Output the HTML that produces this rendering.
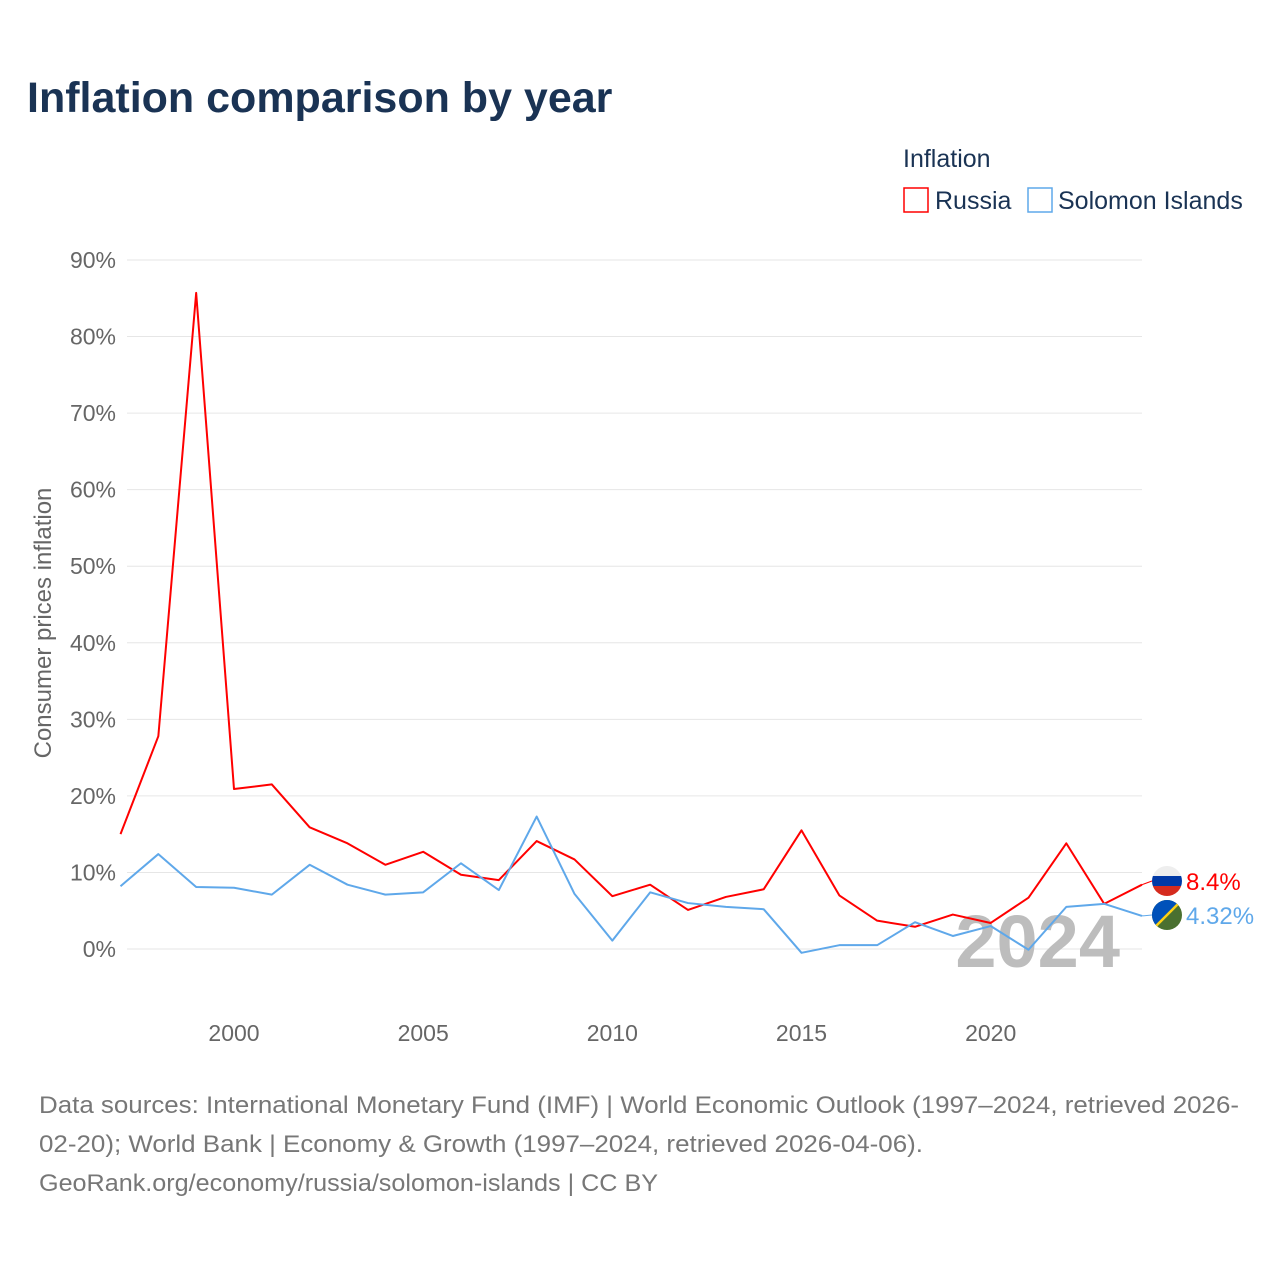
<!DOCTYPE html>
<html><head><meta charset="utf-8"><style>
body{margin:0;background:#fff;font-family:"Liberation Sans",sans-serif;}
</style></head><body>
<svg id="chart" width="1280" height="1280" xmlns="http://www.w3.org/2000/svg">
<defs>
<clipPath id="c1"><circle cx="1167" cy="881" r="15"/></clipPath>
<clipPath id="c2"><circle cx="1167" cy="915" r="15"/></clipPath>
</defs>
<text x="27" y="112" font-size="43" font-weight="bold" fill="#1a3354">Inflation comparison by year</text>
<text x="903" y="167" font-size="25" fill="#1a3354">Inflation</text>
<g><rect x="904" y="188" width="24" height="24" fill="none" stroke="#ff0000" stroke-width="1.5"/><text x="935" y="209" font-size="25" fill="#1a3354">Russia</text></g>
<g><rect x="1028" y="188" width="24" height="24" fill="none" stroke="#5fa8ea" stroke-width="1.5"/><text x="1058" y="209" font-size="25" fill="#1a3354">Solomon Islands</text></g>
<text transform="translate(51,623) rotate(-90)" text-anchor="middle" font-size="24" fill="#666">Consumer prices inflation</text>
<g id="grid"></g><g id="yt"></g><g id="xt"></g>
<text x="1120" y="967" text-anchor="end" font-size="74" font-weight="bold" fill="#bdbdbd">2024</text>
<g id="lines"></g><g id="ends"></g>
<g font-size="24" fill="#777">
<text x="39" y="1113" textLength="1200" lengthAdjust="spacingAndGlyphs">Data sources: International Monetary Fund (IMF) | World Economic Outlook (1997–2024, retrieved 2026-</text>
<text x="39" y="1152" textLength="884" lengthAdjust="spacingAndGlyphs">02-20); World Bank | Economy &amp; Growth (1997–2024, retrieved 2026-04-06).</text>
<text x="39" y="1191" textLength="619" lengthAdjust="spacingAndGlyphs">GeoRank.org/economy/russia/solomon-islands | CC BY</text>
</g>
</svg>
<script>
const years=[1997,1998,1999,2000,2001,2002,2003,2004,2005,2006,2007,2008,2009,2010,2011,2012,2013,2014,2015,2016,2017,2018,2019,2020,2021,2022,2023,2024];
const russia=[15.0,27.8,85.7,20.9,21.5,15.9,13.8,11.0,12.7,9.7,9.0,14.1,11.7,6.9,8.4,5.1,6.8,7.8,15.5,7.0,3.7,2.9,4.5,3.4,6.7,13.8,5.9,8.4];
const solomon=[8.2,12.4,8.1,8.0,7.1,11.0,8.4,7.1,7.4,11.2,7.7,17.3,7.2,1.1,7.4,6.0,5.5,5.2,-0.5,0.5,0.5,3.5,1.7,3.0,-0.1,5.5,5.9,4.32];
const yTicks=[0,10,20,30,40,50,60,70,80,90];
const xTicks=[2000,2005,2010,2015,2020];
const NS="http://www.w3.org/2000/svg";
const X=y=>120.5+(y-1997)*(1142-120.5)/27;
const Y=v=>949-v*(949-260)/90;
function el(t,a,p){const e=document.createElementNS(NS,t);for(const k in a)e.setAttribute(k,a[k]);p.appendChild(e);return e;}
const g=document.getElementById('grid'),yt=document.getElementById('yt'),xt=document.getElementById('xt');
yTicks.forEach(v=>{
 const l=el('line',{x1:127,x2:1142,y1:Y(v),y2:Y(v),stroke:'#e6e6e6','stroke-width':1},g);
 
 
 const t=el('text',{x:116,y:Y(v)+8,'text-anchor':'end','font-size':23,fill:'#666'},yt);
 t.textContent=v+'%';
 
 
});
xTicks.forEach(v=>{
 const t=el('text',{x:X(v),y:1041,'text-anchor':'middle','font-size':23,fill:'#666'},xt);
 t.textContent=v;
 
 
});
const L=document.getElementById('lines'),E=document.getElementById('ends');
[[russia,'#ff0000','russia','8.4%'],[solomon,'#5fa8ea','solomon-islands','4.32%']].forEach(([d,c,n,lab],i)=>{
 const p=el('polyline',{points:d.map((v,j)=>X(years[j])+','+Y(v)).join(' '),fill:'none',stroke:c,'stroke-width':2,'stroke-linejoin':'round'},L);
 
 
 const ly=i===0?881:915;
 const fy=Y(d[d.length-1]);
 el('line',{x1:1142,y1:fy,x2:1152,y2:ly,stroke:c,'stroke-width':1},E);
 const cg=el('g',{'clip-path':'url(#c'+(i+1)+')'},E);
 
 
 if(i===0){
  el('rect',{x:1152,y:ly-15,width:30,height:10,fill:'#eeeeee'},cg);
  el('rect',{x:1152,y:ly-5,width:30,height:10,fill:'#0039a6'},cg);
  el('rect',{x:1152,y:ly+5,width:30,height:10,fill:'#d52b1e'},cg);
 }else{
  el('rect',{x:1152,y:ly-15,width:30,height:30,fill:'#4a7030'},cg);
  el('path',{d:`M1152,${ly-15} L1182,${ly-15} L1152,${ly+15} Z`,fill:'#0051ba'},cg);
  el('line',{x1:1152,y1:ly+15,x2:1182,y2:ly-15,stroke:'#fcd116','stroke-width':2.5},cg);
 }
 const t=el('text',{x:1186,y:ly+9,'font-size':24,fill:c},E);
 t.textContent=lab;
 
 
});
</script>
</body></html>
